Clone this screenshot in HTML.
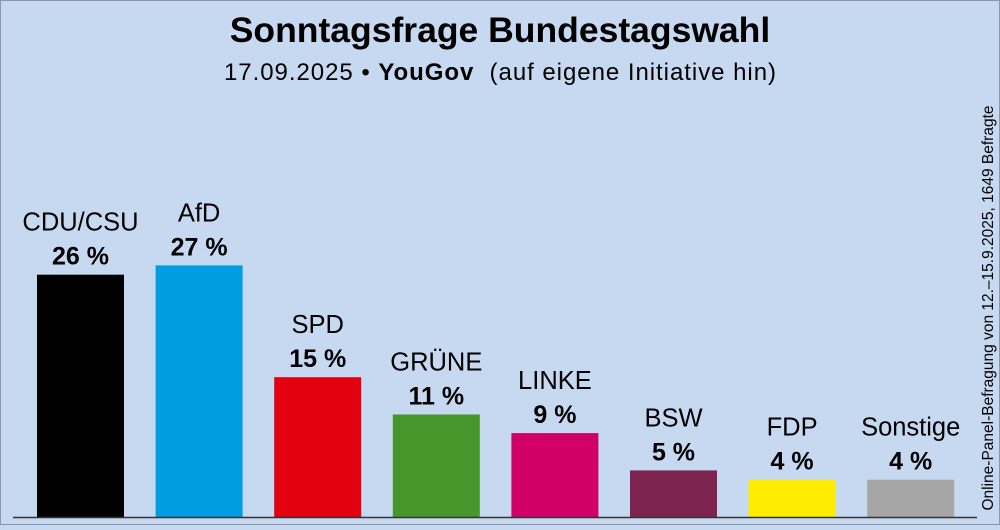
<!DOCTYPE html>
<html><head><meta charset="utf-8"><style>
html,body{margin:0;padding:0}
body{width:1000px;height:525px;background:#c6d9f0;font-family:"Liberation Sans",Arial,sans-serif;overflow:hidden;position:relative}
</style></head><body>
<svg width="1000" height="525" viewBox="0 0 1000 525">
<rect x="0.5" y="0.5" width="999" height="524" fill="#c6d9f0" stroke="#8a96a8"/>
<text x="500" y="42" text-anchor="middle" font-size="35.5" font-weight="bold" fill="#000">Sonntagsfrage Bundestagswahl</text>
<text x="500" y="80" text-anchor="middle" font-size="24" fill="#000" xml:space="preserve" textLength="552">17.09.2025 • <tspan font-weight="bold">YouGov</tspan>  (auf eigene Initiative hin)</text>
<text transform="translate(993,308) rotate(-90)" text-anchor="middle" font-size="15.5" fill="#000">Online-Panel-Befragung von 12.–15.9.2025, 1649 Befragte</text>
<g id="bars"></g>
<line x1="13" y1="517.5" x2="977" y2="517.5" stroke="#333" stroke-width="1.5"/>
</svg>
<script>
const parties=["CDU/CSU","AfD","SPD","GRÜNE","LINKE","BSW","FDP","Sonstige"];
const values=[26,27,15,11,9,5,4,4];
const colors=["#000000","#009ee0","#e3000f","#46962b","#d10069","#7d254f","#ffed00","#a6a6a6"];
const NS="http://www.w3.org/2000/svg";
const g=document.getElementById("bars");
const base=517, scale=9.32, x0=37, step=118.6, bw=87;
const y=v=>base-v*scale;
parties.forEach((p,i)=>{
  const x=x0+i*step, top=y(values[i]);
  const r=document.createElementNS(NS,"rect");
  r.setAttribute("x",x);r.setAttribute("y",top);r.setAttribute("width",bw);r.setAttribute("height",base-top);
  r.setAttribute("fill",colors[i]);
  
  
  g.appendChild(r);
  const t1=document.createElementNS(NS,"text");
  t1.setAttribute("x",x+bw/2);t1.setAttribute("y",top-44);t1.setAttribute("text-anchor","middle");t1.setAttribute("font-size","25.5");
  t1.textContent=p;
  
  
  g.appendChild(t1);
  const t2=document.createElementNS(NS,"text");
  t2.setAttribute("x",x+bw/2);t2.setAttribute("y",top-10);t2.setAttribute("text-anchor","middle");t2.setAttribute("font-size","25");t2.setAttribute("font-weight","bold");
  t2.textContent=values[i]+" %";
  
  
  g.appendChild(t2);
});
</script>
</body></html>
